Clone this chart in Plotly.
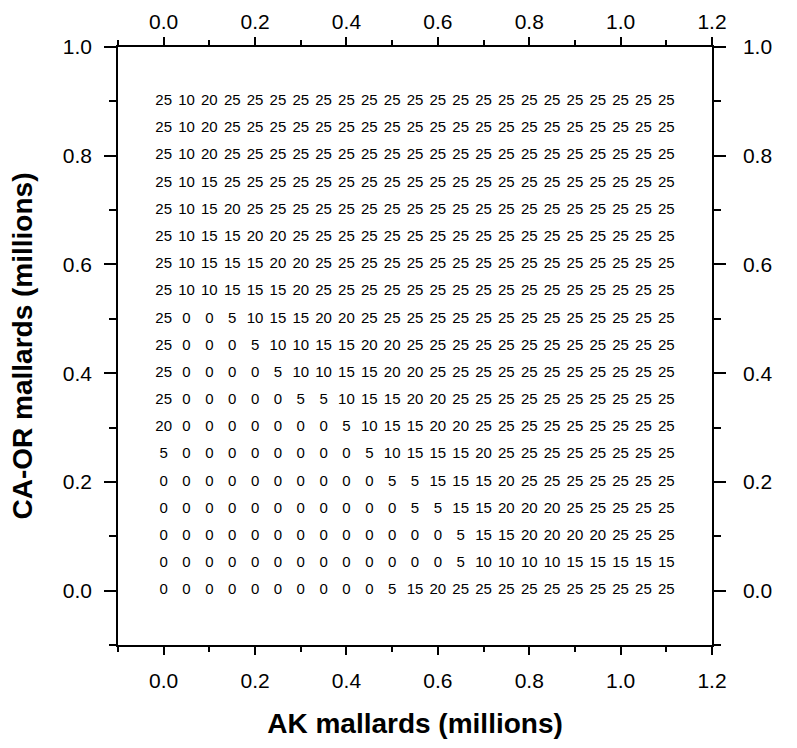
import plotly.graph_objects as go

# AK mallards (millions) - column positions
ak = [0.00, 0.05, 0.10, 0.15, 0.20, 0.25, 0.30, 0.35, 0.40, 0.45, 0.50, 0.55,
      0.60, 0.65, 0.70, 0.75, 0.80, 0.85, 0.90, 0.95, 1.00, 1.05, 1.10]
# CA-OR mallards (millions) - row positions (top to bottom)
caor = [0.90, 0.85, 0.80, 0.75, 0.70, 0.65, 0.60, 0.55, 0.50, 0.45,
        0.40, 0.35, 0.30, 0.25, 0.20, 0.15, 0.10, 0.05, 0.00]

grid = [
    [25, 10, 20, 25, 25, 25, 25, 25, 25, 25, 25, 25, 25, 25, 25, 25, 25, 25, 25, 25, 25, 25, 25],
    [25, 10, 20, 25, 25, 25, 25, 25, 25, 25, 25, 25, 25, 25, 25, 25, 25, 25, 25, 25, 25, 25, 25],
    [25, 10, 20, 25, 25, 25, 25, 25, 25, 25, 25, 25, 25, 25, 25, 25, 25, 25, 25, 25, 25, 25, 25],
    [25, 10, 15, 25, 25, 25, 25, 25, 25, 25, 25, 25, 25, 25, 25, 25, 25, 25, 25, 25, 25, 25, 25],
    [25, 10, 15, 20, 25, 25, 25, 25, 25, 25, 25, 25, 25, 25, 25, 25, 25, 25, 25, 25, 25, 25, 25],
    [25, 10, 15, 15, 20, 20, 25, 25, 25, 25, 25, 25, 25, 25, 25, 25, 25, 25, 25, 25, 25, 25, 25],
    [25, 10, 15, 15, 15, 20, 20, 25, 25, 25, 25, 25, 25, 25, 25, 25, 25, 25, 25, 25, 25, 25, 25],
    [25, 10, 10, 15, 15, 15, 20, 25, 25, 25, 25, 25, 25, 25, 25, 25, 25, 25, 25, 25, 25, 25, 25],
    [25, 0, 0, 5, 10, 15, 15, 20, 20, 25, 25, 25, 25, 25, 25, 25, 25, 25, 25, 25, 25, 25, 25],
    [25, 0, 0, 0, 5, 10, 10, 15, 15, 20, 20, 25, 25, 25, 25, 25, 25, 25, 25, 25, 25, 25, 25],
    [25, 0, 0, 0, 0, 5, 10, 10, 15, 15, 20, 20, 25, 25, 25, 25, 25, 25, 25, 25, 25, 25, 25],
    [25, 0, 0, 0, 0, 0, 5, 5, 10, 15, 15, 20, 20, 25, 25, 25, 25, 25, 25, 25, 25, 25, 25],
    [20, 0, 0, 0, 0, 0, 0, 0, 5, 10, 15, 15, 20, 20, 25, 25, 25, 25, 25, 25, 25, 25, 25],
    [5, 0, 0, 0, 0, 0, 0, 0, 0, 5, 10, 15, 15, 15, 20, 25, 25, 25, 25, 25, 25, 25, 25],
    [0, 0, 0, 0, 0, 0, 0, 0, 0, 0, 5, 5, 15, 15, 15, 20, 25, 25, 25, 25, 25, 25, 25],
    [0, 0, 0, 0, 0, 0, 0, 0, 0, 0, 0, 5, 5, 15, 15, 20, 20, 20, 25, 25, 25, 25, 25],
    [0, 0, 0, 0, 0, 0, 0, 0, 0, 0, 0, 0, 0, 5, 15, 15, 20, 20, 20, 20, 25, 25, 25],
    [0, 0, 0, 0, 0, 0, 0, 0, 0, 0, 0, 0, 0, 5, 10, 10, 10, 10, 15, 15, 15, 15, 15],
    [0, 0, 0, 0, 0, 0, 0, 0, 0, 0, 5, 15, 20, 25, 25, 25, 25, 25, 25, 25, 25, 25, 25],
]

x_ticks = [0.0, 0.2, 0.4, 0.6, 0.8, 1.0, 1.2]
x_ticklabels = ["0.0", "0.2", "0.4", "0.6", "0.8", "1.0", "1.2"]
y_ticks = [0.0, 0.2, 0.4, 0.6, 0.8, 1.0]
y_ticklabels = ["0.0", "0.2", "0.4", "0.6", "0.8", "1.0"]

xs, ys, txt = [], [], []
for yv, row in zip(caor, grid):
    for xv, v in zip(ak, row):
        xs.append(xv)
        ys.append(yv)
        txt.append(str(v))

FONT = "Liberation Sans, Arial, Helvetica, sans-serif"

fig = go.Figure()
fig.add_trace(go.Scatter(
    x=xs, y=ys, text=txt, mode="text", textposition="middle center",
    textfont=dict(family=FONT, size=15, color="black"), hoverinfo="skip",
    showlegend=False))
fig.add_trace(go.Scatter(
    x=xs, y=ys, mode="markers", marker=dict(opacity=0), xaxis="x2", yaxis="y2",
    hoverinfo="skip", showlegend=False))

LW = 1.5
common = dict(showline=True, linecolor="black", linewidth=LW, showgrid=False,
              zeroline=False, ticks="outside", tickcolor="black", tickwidth=LW,
              tickfont=dict(family=FONT, size=21, color="black"))

xcommon = dict(common, range=[-0.1, 1.2], tickvals=x_ticks, ticktext=x_ticklabels,
               ticklen=8,
               minor=dict(ticks="outside", dtick=0.1, tick0=0, ticklen=5,
                          tickwidth=LW, tickcolor="black", showgrid=False))
ycommon = dict(common, range=[-0.1, 1.0], tickvals=y_ticks, ticktext=y_ticklabels,
               ticklen=12,
               minor=dict(ticks="outside", dtick=0.1, tick0=0, ticklen=7,
                          tickwidth=LW, tickcolor="black", showgrid=False))

fig.update_layout(
    width=797, height=748,
    margin=dict(l=118, r=85, t=47, b=103, autoexpand=False),
    paper_bgcolor="white", plot_bgcolor="white",
    font=dict(family=FONT, color="black"),
    xaxis=dict(xcommon, side="bottom", ticklabelstandoff=8,
               title=dict(text="<b>AK mallards (millions)</b>",
                          font=dict(family=FONT, size=28, color="black"),
                          standoff=22)),
    xaxis2=dict(xcommon, side="top", overlaying="x", anchor="y"),
    yaxis=dict(ycommon, side="left", ticklabelstandoff=8,
               title=dict(text="<b>CA-OR mallards (millions)</b>",
                          font=dict(family=FONT, size=28, color="black"),
                          standoff=22)),
    yaxis2=dict(ycommon, side="right", overlaying="y", anchor="x",
                ticklabelstandoff=13),
)

fig.write_html("out.html")
